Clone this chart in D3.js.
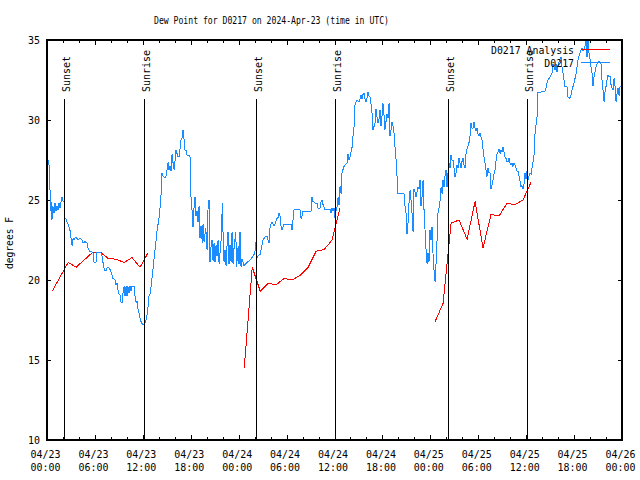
<!DOCTYPE html>
<html><head><meta charset="utf-8">
<script src="https://cdn.jsdelivr.net/npm/d3@7"></script>
<style>
body{margin:0;background:#fff;}
svg text{font-family:"DejaVu Sans Mono",monospace;font-size:11px;fill:#000;}
</style></head><body>
<svg id="c" width="640" height="480"></svg>
<script>
const titleText = "Dew Point for D0217 on 2024-Apr-23 (time in UTC)";
const yLabelText = "degrees F";
const seriesNames = ["D0217 Analysis", "D0217"];
const yTickValues = [10, 15, 20, 25, 30, 35];
const startUTC = Date.UTC(2024, 3, 23, 0, 0);
const endUTC = Date.UTC(2024, 3, 26, 0, 0);
// sun events, hours since 2024-04-23 00:00 UTC
const sunEvents = [["Sunset", 2.19], ["Sunrise", 12.21], ["Sunset", 26.23], ["Sunrise", 36.13], ["Sunset", 50.28], ["Sunrise", 60.17]];
// analysis runs: [hours since start, dew point F]
const analysisRun1 = [[0.65,19.3],[1.65,20.2],[2.65,21.1],[3.65,20.8],[4.65,21.25],[5.65,21.7],[6.65,21.75],[7.65,21.35],[8.65,21.3],[9.65,21.1],[10.65,21.4],[11.65,20.8],[12.65,21.7]];
const analysisRun2 = [[24.7,14.5],[25.7,20.8],[26.7,19.3],[27.7,19.8],[28.7,19.7],[29.7,20.1],[30.7,20.0],[31.7,20.3],[32.7,20.8],[33.7,21.8],[34.7,21.9],[35.7,22.5],[36.7,24.5]];
const analysisRun3 = [[48.6,17.4],[49.6,18.55],[50.6,23.55],[51.6,23.75],[52.6,22.55],[53.6,24.9],[54.6,22.0],[55.6,24.1],[56.6,24.0],[57.6,24.8],[58.6,24.7],[59.6,25.0],[60.6,26.1]];
// station observations: [hours since start, dew point F]
const observed = [
[0.16,27.5],[0.25,27.3],[0.28,26.1],[0.43,25.4],[0.50,24.3],[0.56,24.9],[0.62,23.75],[0.75,24.6],[0.88,24.2],[1.00,24.8],[1.13,24.3],[1.25,24.6],[1.38,24.4],[1.50,24.8],[1.63,24.5],[1.76,24.9],[1.88,25.2],[2.01,24.9],[2.13,24.9],[2.17,23.9],
[2.38,23.8],[2.63,23.5],[2.88,23.1],[3.01,22.6],[3.17,22.1],[3.26,22.6],[3.38,22.5],[3.63,22.7],[3.89,22.5],[4.13,22.6],[4.38,22.5],[4.51,22.3],[4.76,22.4],[5.01,22.3],[5.14,22.0],[5.30,21.8],[5.51,21.8],[5.76,21.7],[5.89,21.1],[6.13,21.1],[6.26,21.75],[6.76,21.7],[6.89,21.5],[7.01,21.1],[7.20,20.6],[7.39,20.6],[7.58,20.8],[7.77,20.75],[7.96,20.6],
[8.14,20.3],[8.26,20.1],[8.51,20.0],[8.64,19.7],[8.77,19.8],[8.89,19.4],[9.02,19.1],[9.14,19.05],[9.27,18.6],[9.40,18.6],[9.52,19.2],[9.65,19.6],[9.77,19.0],[9.90,19.6],[10.02,19.0],[10.14,19.6],[10.27,19.2],[10.39,19.6],[10.52,19.3],[10.64,19.6],[10.90,19.6],[11.02,19.0],[11.15,18.6],[11.27,18.7],[11.40,18.2],[11.53,17.9],[11.65,17.6],[11.84,17.3],[12.03,17.2],
[12.27,17.3],[12.40,17.5],[12.52,17.8],[12.65,18.3],[12.77,19.0],[12.90,19.1],[13.03,19.6],[13.15,20.1],[13.28,20.7],[13.40,21.3],[13.53,21.9],[13.66,22.5],[13.78,23.1],[13.91,23.5],[14.03,23.9],[14.15,24.5],[14.27,25.2],[14.36,26.7],[14.53,26.5],[14.78,26.4],[14.90,26.5],[15.03,26.9],[15.19,27.4],[15.28,26.9],[15.41,27.1],[15.53,26.8],[15.66,27.9],[15.79,27.3],[15.91,26.9],[16.04,27.5],[16.15,28.1],[16.28,27.9],[16.40,27.7],[16.53,27.7],[16.66,28.2],[16.78,28.75],[16.91,28.9],[17.03,29.4],[17.16,28.8],[17.29,28.1],[17.41,28.1],[17.54,27.8],[17.79,27.8],[17.92,27.7],[18.00,26.3],
[18.03,25.2],[18.16,24.4],[18.28,23.3],[18.41,24.5],[18.53,25.2],[18.66,24.0],[18.79,24.3],[18.91,23.6],[19.04,24.6],[19.16,22.6],[19.29,23.4],[19.45,22.3],[19.54,23.5],[19.67,22.4],[19.88,23.25],[20.04,21.9],[20.16,24.4],[20.29,25.0],[20.41,21.1],[20.54,22.1],[20.66,22.5],[20.79,21.2],[20.92,22.3],[21.04,21.1],[21.17,22.2],[21.29,21.5],[21.42,22.5],[21.55,21.0],[21.67,21.7],[21.80,22.5],[21.96,24.8],[22.04,23.0],[22.17,21.1],[22.29,21.9],[22.42,20.9],[22.54,22.1],[22.67,23.0],[22.79,21.0],[22.92,22.2],[23.05,21.1],[23.17,23.0],[23.30,21.0],[23.42,22.0],[23.64,23.0],[23.74,20.8],[23.93,22.1],[24.04,21.0],[24.17,23.0],[24.30,20.8],[24.42,21.3],[24.67,20.9],[25.05,21.1],[25.43,21.25],[25.68,21.4],[25.81,21.5],[25.93,21.6],[26.05,21.8],[26.17,22.4],[26.24,21.6],[26.30,21.4],[26.43,21.5],[26.68,21.6],[26.80,21.9],[26.93,22.2],[27.05,22.5],[27.18,22.6],[27.31,22.7],[27.56,22.7],[27.68,22.5],[27.81,22.3],[27.93,23.3],[28.05,23.5],[28.18,23.6],[28.30,23.5],[28.43,23.4],[28.55,23.5],[28.68,23.7],[28.81,23.85],[28.93,23.9],[29.06,24.2],[29.18,24.0],[29.30,23.4],[29.43,23.1],[29.55,23.3],[29.68,23.5],[30.18,23.5],[30.65,23.5],[30.68,23.1],[30.81,23.8],[30.94,24.4],[31.30,24.4],[31.68,24.4],[31.81,23.85],[31.93,24.0],[32.06,24.3],[32.56,24.3],[33.06,24.3],[33.18,25.2],[33.31,24.9],[33.43,24.9],[33.56,24.8],[33.81,24.8],[33.94,24.5],[34.19,24.5],[34.32,24.9],[34.44,25.0],[34.57,24.7],[34.81,24.4],[35.19,24.4],[35.44,24.4],[35.56,24.2],[35.69,24.5],[35.82,24.3],[35.94,24.5],[36.07,23.85],[36.19,24.3],[36.32,24.6],[36.45,25.2],[36.57,24.7],[36.70,25.9],[36.82,25.4],[36.94,26.7],[37.06,26.9],[37.19,27.1],[37.32,27.2],[37.57,27.3],[37.69,27.9],[37.82,27.5],[37.95,27.7],[38.07,28.0],[38.20,28.3],[38.32,29.0],[38.45,29.6],[38.58,31.05],[38.82,31.25],[39.07,31.15],[39.19,31.3],[39.32,31.55],[39.45,31.3],[39.57,31.6],[39.70,31.7],[39.82,31.3],[39.95,31.15],[40.08,31.4],[40.20,31.75],[40.33,31.5],[40.45,31.45],[40.57,31.0],[40.70,30.4],[40.82,29.4],[40.95,29.6],[41.07,29.8],[41.20,30.7],[41.32,30.2],[41.45,29.8],[41.58,30.1],[41.70,30.6],[41.83,29.6],[41.94,30.2],[42.07,31.05],[42.20,30.3],[42.32,29.4],[42.45,29.9],[42.57,30.4],[42.70,30.1],[42.83,31.05],[42.95,29.0],[43.08,29.4],[43.20,29.9],[43.33,29.6],[43.45,29.2],[43.58,28.3],[43.71,27.5],[43.83,26.5],[43.95,25.4],[44.70,25.4],[44.83,24.6],[44.96,24.2],[45.08,22.9],[45.21,23.6],[45.33,24.8],[45.46,25.6],[45.58,25.0],[45.71,24.2],[45.84,23.0],[45.95,25.7],[46.08,25.5],[46.20,25.2],[46.33,25.5],[46.46,25.8],[46.58,25.7],[46.71,26.25],[46.83,24.6],[46.96,25.2],[47.09,26.25],[47.21,24.4],[47.34,23.1],[47.46,21.9],[47.59,21.0],[47.71,21.7],[47.83,21.1],[47.96,23.1],[48.08,22.5],[48.21,23.3],[48.33,21.7],[48.46,20.6],[48.59,19.9],[48.71,21.0],[48.84,22.5],[48.96,24.2],[49.09,24.5],[49.22,25.0],[49.34,25.8],[49.47,25.4],[49.58,26.25],[49.71,25.8],[49.83,26.45],[49.96,26.9],[50.09,25.8],[50.21,26.7],[50.34,27.3],[50.46,27.0],[50.59,27.8],[50.72,27.5],[50.84,27.5],[50.97,27.0],[51.09,26.45],[51.22,26.7],[51.34,27.2],[51.46,27.0],[51.59,27.6],[51.71,27.3],[51.84,27.0],[51.96,27.4],[52.09,27.6],[52.22,27.2],[52.34,27.0],[52.47,27.9],[52.59,28.2],[52.72,28.4],[52.85,28.6],[52.97,29.0],[53.09,29.8],[53.21,29.5],[53.34,29.5],[53.47,29.9],[53.59,29.5],[53.72,29.3],[53.84,29.5],[53.97,29.1],[54.09,29.0],[54.22,29.2],[54.35,28.9],[54.47,28.75],[54.60,28.2],[54.72,27.7],[54.85,27.3],[54.97,26.9],[55.09,26.45],[55.22,27.0],[55.34,26.7],[55.47,26.75],[55.60,25.7],[55.72,25.9],[55.85,26.25],[55.97,26.6],[56.10,26.9],[56.22,27.4],[56.35,27.9],[56.48,28.0],[56.60,28.2],[56.73,27.9],[56.85,28.1],[56.98,28.0],[57.10,28.3],[57.22,28.0],[57.35,27.7],[57.47,27.6],[57.60,27.4],[57.73,27.4],[57.85,27.6],[57.98,27.3],[58.10,27.2],[58.23,27.3],[58.35,27.1],[58.48,27.3],[58.61,27.2],[58.73,27.0],[58.86,26.8],[58.97,26.8],[59.10,26.5],[59.23,26.2],[59.35,25.8],[59.48,25.9],[59.60,25.7],[59.73,26.0],[59.86,26.7],[59.98,26.3],[60.11,26.8],[60.23,26.25],[60.36,26.5],[60.48,26.7],[60.61,26.6],[60.74,27.0],[60.86,27.4],[60.98,27.8],[61.10,29.1],[61.23,29.7],[61.36,30.2],[61.48,31.7],[61.73,31.7],[61.99,31.8],[62.36,31.8],[62.49,32.0],[62.61,32.3],[62.74,32.5],[62.98,32.7],[63.11,32.8],[63.23,32.9],[63.36,33.5],[63.49,33.3],[63.61,33.1],[63.74,33.5],[63.86,33.0],[63.99,33.3],[64.12,33.65],[64.24,33.8],[64.37,33.95],[64.49,33.3],[64.62,32.9],[64.74,32.5],[64.86,32.1],[65.11,32.1],[65.24,31.45],[65.49,31.35],[65.62,31.6],[65.74,31.9],[65.87,32.1],[65.99,32.3],[66.12,32.6],[66.25,32.9],[66.37,33.3],[66.50,33.75],[66.62,34.0],[66.75,34.2],[66.87,34.4],[66.99,34.5],[67.12,34.3],[67.24,34.4],[67.37,34.6],[67.49,35.0],[67.62,33.95],[67.75,35.0],[67.87,34.2],[68.00,33.8],[68.12,33.3],[68.25,32.9],[68.37,32.1],[68.50,32.7],[68.63,33.0],[68.75,33.3],[68.87,33.5],[68.99,33.6],[69.12,33.65],[69.25,33.6],[69.37,33.5],[69.50,32.5],[69.62,31.9],[69.75,31.15],[69.88,31.8],[70.00,32.1],[70.13,32.5],[70.25,32.8],[70.38,32.7],[70.51,32.7],[70.63,32.2],[70.76,32.0],[70.88,31.9],[71.01,32.6],[71.13,32.1],[71.26,31.15],[71.39,31.7],[71.51,32.0],[71.64,31.5],[71.76,32.1]
];

const colors = {analysis: "#ff0000", obs: "#1a8cff"};
const toDate = h => new Date(startUTC + h * 3600e3);

const svg = d3.select("#c");
const x = d3.scaleUtc().domain([new Date(startUTC), new Date(endUTC)]).range([47, 622]);
const y = d3.scaleLinear().domain([10, 35]).range([440, 40]);

svg.append("defs").append("clipPath").attr("id", "clip")
  .append("rect").attr("x", x.range()[0]).attr("y", y.range()[1])
  .attr("width", x.range()[1] - x.range()[0]).attr("height", y.range()[0] - y.range()[1]);

// title
svg.append("text").attr("x", 271.5).attr("y", 24).attr("text-anchor", "middle")
  .attr("textLength", 235).attr("lengthAdjust", "spacingAndGlyphs").text(titleText);

// y label
svg.append("text").attr("transform", "translate(13,243) rotate(-90)").attr("text-anchor", "middle")
  .attr("textLength", 52).attr("lengthAdjust", "spacingAndGlyphs").text(yLabelText);

function styleAxis(g) {
  g.select(".domain").remove();
  g.selectAll("line").attr("stroke", "#000").attr("shape-rendering", "crispEdges");
  g.attr("font-family", null).attr("font-size", null);
}

// x ticks (inward) bottom and top
const minorTicks = x.ticks(d3.utcHour.every(2));
const majorTicks = x.ticks(d3.utcHour.every(6));
svg.append("g").attr("transform", "translate(0,440)")
  .call(d3.axisBottom(x).tickValues(minorTicks).tickSize(-3).tickFormat("")).call(styleAxis);
svg.append("g").attr("transform", "translate(0,440)")
  .call(d3.axisBottom(x).tickValues(majorTicks).tickSize(-5).tickFormat("")).call(styleAxis);
svg.append("g").attr("transform", "translate(0,40)")
  .call(d3.axisTop(x).tickValues(minorTicks).tickSize(-3).tickFormat("")).call(styleAxis);
svg.append("g").attr("transform", "translate(0,40)")
  .call(d3.axisTop(x).tickValues(majorTicks).tickSize(-5).tickFormat("")).call(styleAxis);

// x tick labels
const fmtDate = d3.utcFormat("%m/%d"), fmtTime = d3.utcFormat("%H:%M");
const xl = svg.append("g");
xl.selectAll("text.d").data(majorTicks).join("text").attr("class", "d")
  .attr("x", d => x(d) - 1.5).attr("y", 458).attr("text-anchor", "middle")
  .attr("textLength", 30).attr("lengthAdjust", "spacingAndGlyphs").text(fmtDate);
xl.selectAll("text.t").data(majorTicks).join("text").attr("class", "t")
  .attr("x", d => x(d) - 1.5).attr("y", 471).attr("text-anchor", "middle")
  .attr("textLength", 30).attr("lengthAdjust", "spacingAndGlyphs").text(fmtTime);

// y axes
const ya = svg.append("g").attr("transform", "translate(47,0)")
  .call(d3.axisLeft(y).tickValues(yTickValues).tickSize(-4).tickPadding(7).tickFormat(d3.format("d"))).call(styleAxis);
ya.selectAll("text").attr("textLength", 12).attr("lengthAdjust", "spacingAndGlyphs").attr("dy", "0.36em");
svg.append("g").attr("transform", "translate(622,0)")
  .call(d3.axisRight(y).tickValues(yTickValues).tickSize(-4).tickFormat("")).call(styleAxis);

// data lines
const line = d3.line().x(d => x(toDate(d[0]))).y(d => y(d[1]));
const plot = svg.append("g").attr("clip-path", "url(#clip)");
[analysisRun1, analysisRun2, analysisRun3].forEach(run => {
  plot.append("path").datum(run).attr("d", line).attr("fill", "none")
    .attr("stroke", colors.analysis).attr("stroke-width", 1).attr("shape-rendering", "crispEdges");
});
plot.append("path").datum(observed).attr("d", line).attr("fill", "none")
  .attr("stroke", colors.obs).attr("stroke-width", 1).attr("shape-rendering", "crispEdges");

// sun event lines and labels
const sg = svg.append("g");
sg.selectAll("line").data(sunEvents).join("line")
  .attr("x1", d => Math.floor(x(toDate(d[1]))) + 0.5).attr("x2", d => Math.floor(x(toDate(d[1]))) + 0.5)
  .attr("y1", 99).attr("y2", 440).attr("stroke", "#000").attr("stroke-width", 1).attr("shape-rendering", "crispEdges");
sg.selectAll("text").data(sunEvents).join("text")
  .attr("transform", d => `translate(${Math.floor(x(toDate(d[1]))) + 6},92) rotate(-90)`)
  .attr("textLength", d => d[0].length * 6).attr("lengthAdjust", "spacingAndGlyphs")
  .text(d => d[0]);

// legend
const lg = svg.append("g");
const legendItems = [[seriesNames[0], colors.analysis, 54], [seriesNames[1], colors.obs, 67]];
lg.selectAll("text").data(legendItems).join("text")
  .attr("x", 574).attr("y", d => d[2]).attr("text-anchor", "end")
  .attr("textLength", d => d[0].length * 5.93).attr("lengthAdjust", "spacingAndGlyphs").text(d => d[0]);
lg.selectAll("line").data(legendItems).join("line")
  .attr("x1", 581).attr("x2", 610).attr("y1", d => d[2] - 4.5).attr("y2", d => d[2] - 4.5)
  .attr("stroke", d => d[1]).attr("stroke-width", 1).attr("shape-rendering", "crispEdges");

// frame
svg.append("rect").attr("x", 47).attr("y", 40).attr("width", 575).attr("height", 400)
  .attr("fill", "none").attr("stroke", "#000").attr("stroke-width", 2).attr("shape-rendering", "crispEdges");
</script>
</body></html>
